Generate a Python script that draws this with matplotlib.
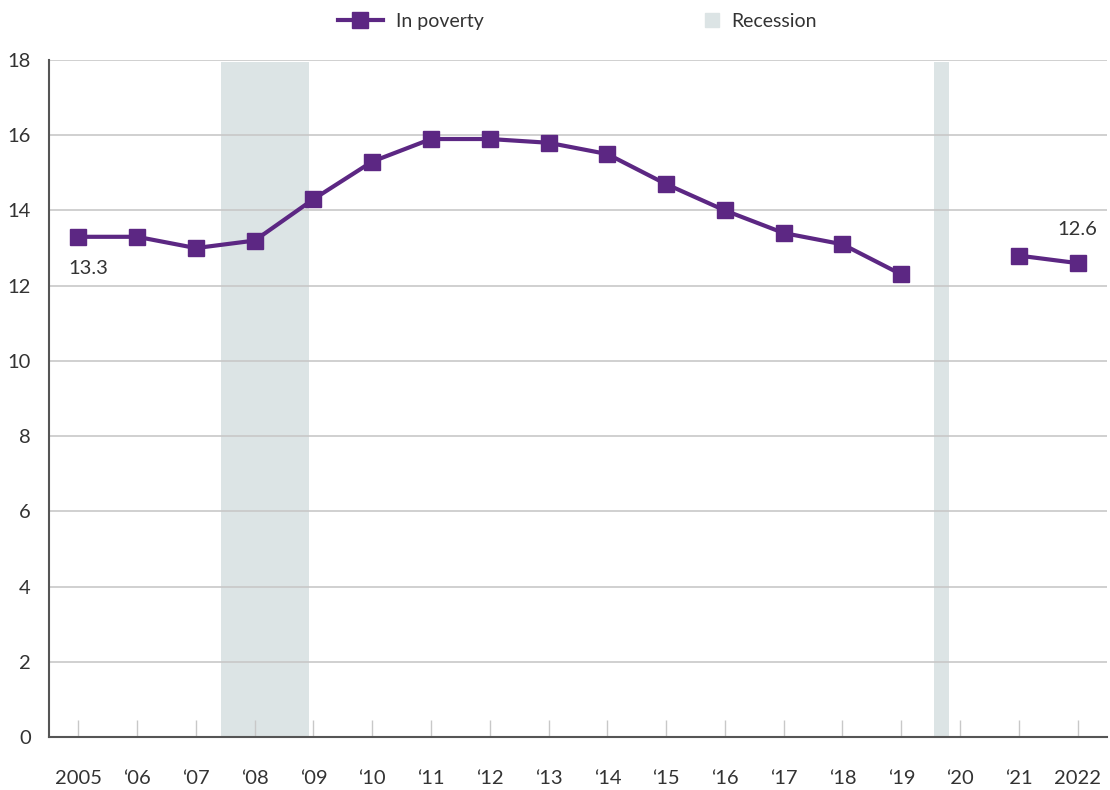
import matplotlib.pyplot as plt
import numpy as np
from matplotlib.lines import Line2D

plt.rcParams['font.family'] = ['Lato', 'DejaVu Sans']

years = np.arange(2005, 2023)
poverty = [13.3, 13.3, 13.0, 13.2, 14.3, 15.3, 15.9, 15.9, 15.8, 15.5,
           14.7, 14.0, 13.4, 13.1, 12.3, np.nan, 12.8, 12.6]
tick_labels = ['2005', '\u201806', '\u201807', '\u201808', '\u201809', '\u201810',
               '\u201811', '\u201812', '\u201813', '\u201814', '\u201815', '\u201816',
               '\u201817', '\u201818', '\u201819', '\u201820', '\u201821', '2022']
recessions = [(2007.42, 2008.93), (2019.55, 2019.81)]

purple = '#5c2783'
shade = '#dce4e5'
text_col = '#333333'

fig = plt.figure(figsize=(11.1, 7.9), dpi=100)
ax = fig.add_axes([0.0441, 0.0671, 0.9532, 0.8569])

for a, b in recessions:
    ax.axvspan(a, b, ymin=0, ymax=0.997, color=shade, lw=0, zorder=0)

ax.plot(years, poverty, color=purple, lw=3, marker='s', ms=11.5, zorder=3)

ax.annotate('13.3', (years[0], poverty[0]), xytext=(7, -17), textcoords='offset points',
            ha='center', va='top', fontsize=14.5, color=text_col)
ax.annotate('12.6', (years[-1], poverty[-1]), xytext=(0, 18), textcoords='offset points',
            ha='center', va='bottom', fontsize=14.5, color=text_col)

ax.set_xlim(2004.5, 2022.5)
ax.set_ylim(0, 18)
ax.set_yticks(np.arange(0, 19, 2))
ax.set_xticks(years)
ax.set_xticklabels(tick_labels)
ax.yaxis.grid(True, color='#c8c8c8', lw=1.2)
ax.set_axisbelow(True)

for s in ['top', 'right']:
    ax.spines[s].set_visible(False)
for s in ['left', 'bottom']:
    ax.spines[s].set_color('#555555')
    ax.spines[s].set_linewidth(1.5)
    ax.spines[s].set_zorder(4)

ax.tick_params(axis='y', length=0, pad=13, labelsize=14.5, labelcolor=text_col)
ax.tick_params(axis='x', direction='in', length=12, width=1, color='#c8c8c8',
               pad=23.5, labelsize=14.5, labelcolor=text_col)

h_pov = Line2D([], [], color=purple, lw=3, marker='s', ms=11)
h_rec = Line2D([], [], color=shade, lw=0, marker='s', ms=10)
leg1 = fig.legend([h_pov], ['In poverty'], loc='center left',
                  bbox_to_anchor=(0.3045, 0.9725), frameon=False, fontsize=14,
                  labelcolor=text_col, handlelength=2.3, handletextpad=0.7,
                  borderpad=0, borderaxespad=0)
leg2 = fig.legend([h_rec], ['Recession'], loc='center left',
                  bbox_to_anchor=(0.634, 0.9725), frameon=False, fontsize=14,
                  labelcolor=text_col, handlelength=0.8, handletextpad=0.63,
                  borderpad=0, borderaxespad=0)

fig.savefig('out.png', dpi=100)
